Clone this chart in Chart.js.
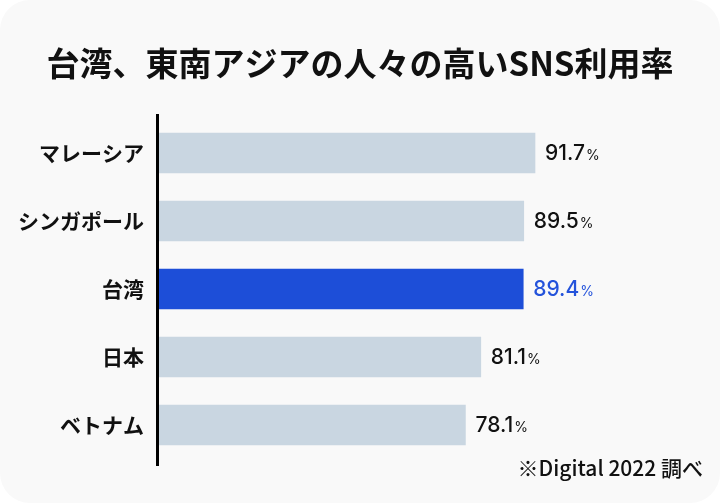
<!DOCTYPE html>
<html lang="ja">
<head>
<meta charset="utf-8">
<script src="https://cdn.jsdelivr.net/npm/chart.js@4"></script>
<style>
html, body { margin: 0; padding: 0; background: #fff; }
#card { width: 720px; height: 503px; background: #f9f9f9; border-radius: 30px; overflow: hidden; position: relative; }
</style>
</head>
<body>
<div id="card"><canvas id="c"></canvas></div>
<script>
// データ
const titleText = '台湾、東南アジアの人々の高いSNS利用率';
const noteText = '※Digital 2022 調べ';
const countries = ['マレーシア', 'シンガポール', '台湾', '日本', 'ベトナム'];
const usage = [91.7, 89.5, 89.4, 81.1, 78.1];
const highlight = '台湾';

const barColors = countries.map(c => c === highlight ? '#1d4ed8' : '#c9d6e1');

// 軸線・数値ラベル・タイトル・注記を描く
const decorPlugin = {
    id: 'decor',
    afterDatasetsDraw(chart) {
        const ctx = chart.ctx;
        const area = chart.chartArea;
        ctx.save();
        ctx.fillStyle = '#000';
        ctx.fillRect(area.left - 2, area.top - 5, 3, area.bottom - area.top + 12);

        const meta = chart.getDatasetMeta(0);
        meta.data.forEach((bar, i) => {
            const isHi = countries[i] === highlight;
            ctx.fillStyle = isHi ? '#2453db' : '#111';
            ctx.textBaseline = 'middle';
            ctx.textAlign = 'left';
            const num = usage[i].toFixed(1);
            const x = bar.x + 10;
            ctx.font = '500 21px Inter';
            ctx.fillText(num, x, bar.y + 1);
            const w = ctx.measureText(num).width;
            ctx.font = '400 14px Inter';
            ctx.fillText('%', x + w + 1, bar.y + 3);
        });

        ctx.fillStyle = '#111';
        ctx.textBaseline = 'middle';
        ctx.font = 'bold 33px "Noto Sans CJK JP"';
        ctx.textAlign = 'center';
        ctx.fillText(titleText, chart.width / 2, 63);

        ctx.font = '500 21px "Noto Sans CJK JP"';
        ctx.textAlign = 'right';
        ctx.fillText(noteText, 703, 468);
        ctx.restore();
    }
};

Chart.defaults.font.family = '"Noto Sans CJK JP", sans-serif';

new Chart(document.getElementById('c'), {
    type: 'bar',
    data: {
        labels: countries,
        datasets: [{
            data: usage,
            backgroundColor: barColors,
            borderWidth: 0,
            barThickness: 40
        }]
    },
    options: {
        indexAxis: 'y',
        responsive: true,
        maintainAspectRatio: false,
        animation: false,
        layout: { padding: { top: 119, bottom: 44, left: 0, right: 30 } },
        plugins: {
            legend: { display: false },
            tooltip: { enabled: false }
        },
        scales: {
            x: {
                type: 'linear',
                min: 18,
                max: 122,
                display: false
            },
            y: {
                grid: { display: false, drawTicks: false },
                border: { display: false },
                ticks: {
                    color: '#111',
                    padding: 14,
                    font: { size: 21, weight: 'bold' }
                },
                afterFit(scale) { scale.width = 158; }
            }
        }
    },
    plugins: [decorPlugin]
});
</script>
</body>
</html>
